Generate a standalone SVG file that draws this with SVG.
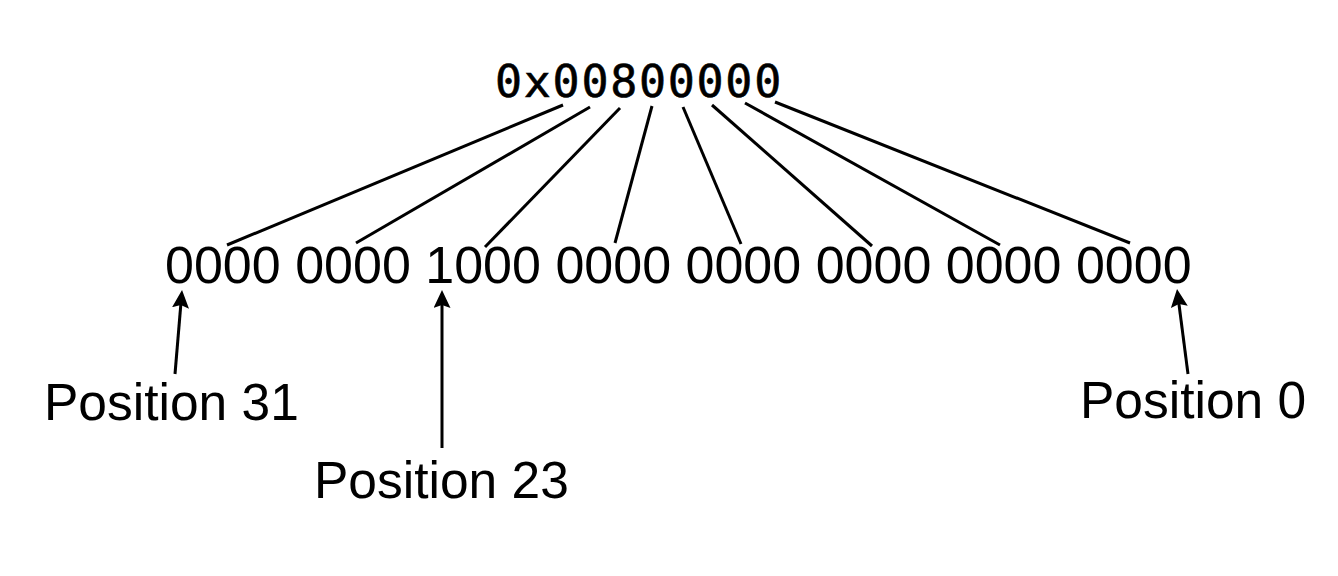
<svg xmlns="http://www.w3.org/2000/svg" width="1338" height="576" viewBox="0 0 1338 576">
  <style>
    .hex { font-family: "DejaVu Sans Mono", "Liberation Mono", monospace; font-size: 45px; letter-spacing: 1.7px; fill: #000; stroke: #000; stroke-width: 0.6px; }
    .bin { font-family: "Liberation Sans", Arial, sans-serif; font-size: 52px; fill: #000; }
    .lbl { font-family: "Liberation Sans", Arial, sans-serif; font-size: 51.5px; fill: #000; }
    .ln { stroke: #000; stroke-width: 3; fill: none; }
    .arr { stroke: #000; stroke-width: 3; fill: none; marker-end: url(#ah); }
  </style>
  <defs>
    <marker id="ah" markerUnits="userSpaceOnUse" markerWidth="18" markerHeight="17" viewBox="0 0 18 17" refX="8" refY="8.5" orient="auto">
      <path d="M0,0 L18,8.5 L0,17 L3,8.5 z" fill="#000"/>
    </marker>
  </defs>
  <rect width="1338" height="576" fill="#fff"/>

  <g id="hex-value">
    <text class="hex" x="495" y="97">0x00800000</text>
  </g>
  <g id="binary-value">
    <text class="bin" x="165" y="283">0000 0000 1000 0000 0000 0000 0000 0000</text>
  </g>
  <g id="label-position-31">
    <text class="lbl" x="44" y="420">Position 31</text>
  </g>
  <g id="label-position-23">
    <text class="lbl" x="314" y="498">Position 23</text>
  </g>
  <g id="label-position-0">
    <text class="lbl" x="1080" y="418">Position 0</text>
  </g>

  <g id="connectors">
    <line class="ln" x1="563" y1="105" x2="227" y2="245"/>
    <line class="ln" x1="590" y1="107" x2="356" y2="243"/>
    <line class="ln" x1="620" y1="108" x2="485" y2="247"/>
    <line class="ln" x1="652" y1="106" x2="615" y2="243"/>
    <line class="ln" x1="683" y1="107" x2="741" y2="244"/>
    <line class="ln" x1="712" y1="105" x2="872" y2="246"/>
    <line class="ln" x1="745" y1="103" x2="1000" y2="245"/>
    <line class="ln" x1="775" y1="102" x2="1130" y2="243"/>
    <line class="arr" x1="175" y1="374" x2="181.2" y2="300"/>
    <line class="arr" x1="442" y1="448" x2="442" y2="300"/>
    <line class="arr" x1="1188" y1="374" x2="1178.3" y2="299"/>
  </g>
</svg>
